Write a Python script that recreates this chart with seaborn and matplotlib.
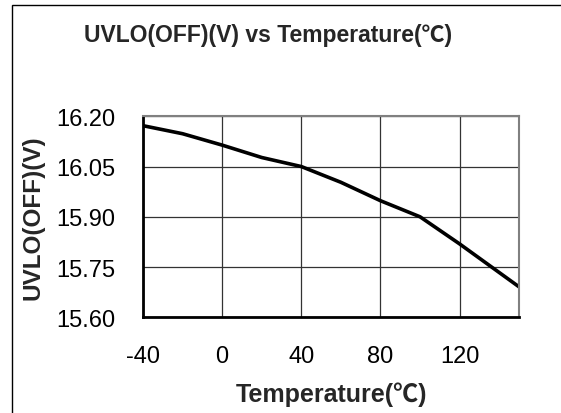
import matplotlib
matplotlib.use('Agg')
import seaborn as sns
import pandas as pd
from matplotlib import pyplot as plt
from matplotlib.patches import Rectangle

# values
temperature = [-40, -20, 0, 20, 40, 60, 80, 100, 120, 150]
uvlo_off = [16.172, 16.148, 16.114, 16.077, 16.050, 16.003, 15.948, 15.900, 15.819, 15.691]
x_ticks = [-40, 0, 40, 80, 120]
y_ticks = [15.60, 15.75, 15.90, 16.05, 16.20]

sns.set_theme(style='white')
plt.rcParams['font.family'] = ['Liberation Sans', 'Noto Sans CJK SC', 'DejaVu Sans']
plt.rcParams['axes.unicode_minus'] = False

df = pd.DataFrame({'Temperature': temperature, 'UVLO': uvlo_off})

fig = plt.figure(figsize=(5.61, 4.14), dpi=100)
fig.patch.set_facecolor('white')
# outer frame of the chart area
fig.patches.append(Rectangle((12 / 561, -0.1), 1.2, 1 - 6 / 414 + 0.1,
                             transform=fig.transFigure, fill=False,
                             edgecolor='black', linewidth=1.0))

ax = fig.add_axes([143 / 561, 1 - 318.3 / 414, 376 / 561, 201 / 414])
sns.lineplot(data=df, x='Temperature', y='UVLO', ax=ax, color='black',
             linewidth=2.6, errorbar=None)

ax.set_xlim(-40, 150)
ax.set_ylim(15.60, 16.20)
ax.set_xticks(x_ticks)
ax.set_yticks(y_ticks)
ax.set_yticklabels([f'{v:.2f}' for v in y_ticks])
ax.grid(True, color='#333333', linewidth=0.9)
ax.tick_params(axis='both', labelsize=17, pad=20, length=0, colors='black')

for side in ['left', 'bottom']:
    ax.spines[side].set_color('black')
    ax.spines[side].set_linewidth(2.0)
for side in ['top', 'right']:
    ax.spines[side].set_color('#808080')
    ax.spines[side].set_linewidth(1.5)
ax.set_axisbelow(True)

ax.set_xlabel('Temperature(℃)', fontsize=18, fontweight='bold', va='center')
ax.set_ylabel('UVLO(OFF)(V)', fontsize=17.5, fontweight='bold', va='center')
ax.xaxis.set_label_coords(0.5, (318.3 - 395) / 201)
ax.yaxis.set_label_coords((33 - 143) / 376, 0.5)
fig.text(268 / 561, 1 - 36 / 414, 'UVLO(OFF)(V) vs Temperature(℃)',
         fontsize=16.5, fontweight='bold', ha='center', va='center')

fig.savefig('out.png', dpi=100)
